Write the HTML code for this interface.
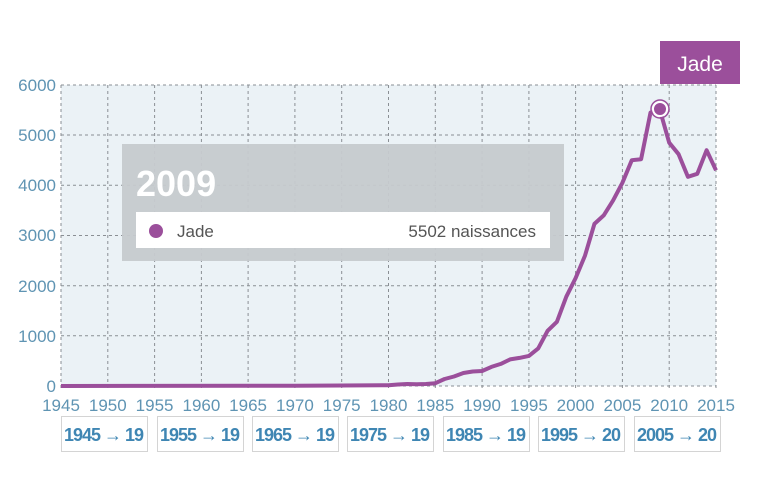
<!DOCTYPE html>
<html><head><meta charset="utf-8"><style>
body{margin:0;background:#fff;width:770px;height:477px;overflow:hidden;font-family:"Liberation Sans",sans-serif}
.btn{position:absolute;top:416px;width:87px;height:36px;border:1px solid #d4d4d4;box-sizing:border-box;color:#3f86b3;font-size:18px;font-weight:bold;line-height:36px;padding-left:2px;overflow:hidden;white-space:nowrap;letter-spacing:-1px}
</style></head><body>
<svg width="770" height="477" style="position:absolute;left:0;top:0" font-family="Liberation Sans, sans-serif">
<rect x="61" y="85" width="655" height="301" fill="#ebf2f6"/>
<g stroke="#8a8f94" stroke-width="1" stroke-dasharray="3,3">
<line x1="61" y1="85" x2="716" y2="85"/><line x1="61" y1="135" x2="716" y2="135"/><line x1="61" y1="185.3" x2="716" y2="185.3"/><line x1="61" y1="235.5" x2="716" y2="235.5"/><line x1="61" y1="285.7" x2="716" y2="285.7"/><line x1="61" y1="335.8" x2="716" y2="335.8"/><line x1="61" y1="386" x2="716" y2="386"/>
<line x1="61" y1="85" x2="61" y2="390"/><line x1="107.8" y1="85" x2="107.8" y2="390"/><line x1="154.6" y1="85" x2="154.6" y2="390"/><line x1="201.4" y1="85" x2="201.4" y2="390"/><line x1="248.1" y1="85" x2="248.1" y2="390"/><line x1="294.9" y1="85" x2="294.9" y2="390"/><line x1="341.7" y1="85" x2="341.7" y2="390"/><line x1="388.5" y1="85" x2="388.5" y2="390"/><line x1="435.3" y1="85" x2="435.3" y2="390"/><line x1="482.1" y1="85" x2="482.1" y2="390"/><line x1="528.9" y1="85" x2="528.9" y2="390"/><line x1="575.6" y1="85" x2="575.6" y2="390"/><line x1="622.4" y1="85" x2="622.4" y2="390"/><line x1="669.2" y1="85" x2="669.2" y2="390"/><line x1="716" y1="85" x2="716" y2="390"/>
</g>
<g fill="#5f94b3" font-size="17" text-anchor="end">
<text x="56" y="91">6000</text><text x="56" y="141">5000</text><text x="56" y="191">4000</text><text x="56" y="241">3000</text><text x="56" y="292">2000</text><text x="56" y="342">1000</text><text x="56" y="392">0</text>
</g>
<g fill="#5f94b3" font-size="17" text-anchor="middle">
<text x="61" y="411">1945</text><text x="107.8" y="411">1950</text><text x="154.6" y="411">1955</text><text x="201.4" y="411">1960</text><text x="248.1" y="411">1965</text><text x="294.9" y="411">1970</text><text x="341.7" y="411">1975</text><text x="388.5" y="411">1980</text><text x="435.3" y="411">1985</text><text x="482.1" y="411">1990</text><text x="528.9" y="411">1995</text><text x="575.6" y="411">2000</text><text x="622.4" y="411">2005</text><text x="669.2" y="411">2010</text><text x="716" y="411">2015</text>
</g>
<rect x="122" y="144" width="442" height="117" fill="#c6cacd" opacity="0.95"/>
<text x="136" y="196" fill="#fff" font-size="36" font-weight="bold">2009</text>
<rect x="136" y="212" width="414" height="36" fill="#fff"/>
<circle cx="156" cy="231" r="7" fill="#9b4f9b"/>
<text x="177" y="237" fill="#555" font-size="17">Jade</text>
<text x="536" y="237" fill="#555" font-size="17" text-anchor="end">5502 naissances</text>
<polyline fill="none" stroke="#9b4f9b" stroke-width="4" stroke-linejoin="round" points="61,386 294.9,385.7 341.7,385.5 388.5,385.2 397.9,384.5 407.2,384 416.6,384.2 425.9,384 435.3,383.2 444.6,379 454,376.5 463.4,373 472.7,371.5 482.1,371 491.4,366.9 500.8,363.9 510.1,359.4 519.5,357.9 528.9,355.9 538.2,348.4 547.6,330.8 556.9,321.8 566.3,296.7 575.6,278.1 585,255.6 594.4,223.9 603.7,215.4 613.1,200.4 622.4,182.8 631.8,160.2 641.1,159.2 650.5,112.6 659.9,110 669.2,142.7 678.6,154.2 687.9,176.8 697.3,173.8 706.6,150.2 716,170.3"/>
<circle cx="660" cy="109" r="7" fill="#9b4f9b" stroke="#fff" stroke-width="2"/>
<circle cx="660" cy="109" r="9" fill="none" stroke="#9b4f9b" stroke-width="1.5"/>
<rect x="660" y="41" width="80" height="43" fill="#9b4f9b"/>
<text x="700" y="71" fill="#fff" font-size="21" text-anchor="middle">Jade</text>
</svg>
<div class="btn" style="left:61px">1945 → 19</div>
<div class="btn" style="left:157px">1955 → 19</div>
<div class="btn" style="left:252px">1965 → 19</div>
<div class="btn" style="left:347px">1975 → 19</div>
<div class="btn" style="left:443px">1985 → 19</div>
<div class="btn" style="left:538px">1995 → 20</div>
<div class="btn" style="left:634px">2005 → 20</div>
</body></html>
